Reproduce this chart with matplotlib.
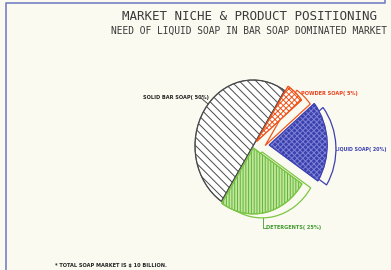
import matplotlib
matplotlib.use("Agg")
import matplotlib.pyplot as plt

# ---- data ----
categories = ["SOLID BAR SOAP", "DETERGENTS", "LIQUID SOAP", "POWDER SOAP"]
shares = [50, 25, 20, 5]
labels = ["SOLID BAR SOAP( 50%)", "DETERGENTS( 25%)", "LIQUID SOAP( 20%)", "POWDER SOAP( 5%)"]
title = "MARKET NICHE & PRODUCT POSITIONING"
subtitle = "NEED OF LIQUID SOAP IN BAR SOAP DOMINATED MARKET"
footnote = "* TOTAL SOAP MARKET IS $ 10 BILLION."

W, H = 391, 270
bg = "#fbfaf1"
fig = plt.figure(figsize=(W / 100, H / 100), dpi=100, facecolor=bg)
plt.rcParams['hatch.linewidth'] = 0.7

# background axes in pixel coordinates
bax = fig.add_axes([0, 0, 1, 1])
bax.set_xlim(0, W)
bax.set_ylim(H, 0)
bax.axis("off")
bax.set_facecolor(bg)

frame_c = "#7580c4"
bax.plot([6, 6, 385, 385], [H + 5, 3, 3, -2], color=frame_c, lw=1.2)

bax.text(249, 17, title, ha="center", va="center", family="DejaVu Sans Mono",
         fontsize=9.0, color="#3a3a3a")
bax.text(249, 31, subtitle, ha="center", va="center", family="DejaVu Sans Mono",
         fontsize=6.95, color="#3a3a3a")
bax.text(55, 265, footnote, ha="left", va="center", fontsize=3.6,
         weight="bold", color="#222222")

# pie axes (elliptical pie)
cx, cy = 253, 146
rx, ry = 58, 66
lim = 1.25
aw, ah = 2 * lim * rx, 2 * lim * ry
pax = fig.add_axes([(cx - aw / 2) / W, (H - cy - ah / 2) / H, aw / W, ah / H])
pax.set_facecolor("none")

face = ["white", "#c3e79a", "#3c40ad", "white"]
edge = ["#4a4a4a", "#5fb43e", "#7d82d8", "#f0561c"]
outline = ["#4a4a4a", "#7cc644", "#3c40b0", "#f0561c"]
hatch = ["\\\\\\\\", "||||||", "xxxxxx", "xxxxxx"]
explode = [0.0, 0.03, 0.28, 0.09]
start = 57

# extrusion (offset outlines) behind exploded slices
back, _ = pax.pie(shares, explode=explode, startangle=start, counterclock=True,
                  center=(0.15, -0.06), radius=1.0)
for i, w in enumerate(back):
    if i == 0:
        w.set_visible(False)
    else:
        w.set_facecolor(bg)
        w.set_edgecolor(outline[i])
        w.set_linewidth(0.9)
        w.set_zorder(1)

front, _ = pax.pie(shares, explode=explode, startangle=start, counterclock=True,
                   radius=1.0)
for i, w in enumerate(front):
    w.set_facecolor(face[i])
    w.set_edgecolor(edge[i])
    w.set_hatch(hatch[i])
    w.set_linewidth(0.6)
    w.set_zorder(3)

front2, _ = pax.pie(shares, explode=explode, startangle=start, counterclock=True,
                    radius=1.0)
for i, w in enumerate(front2):
    w.set_facecolor("none")
    w.set_edgecolor(outline[i])
    w.set_linewidth(0.9)
    w.set_zorder(4)

pax.set_aspect("auto")
pax.set_xlim(-lim, lim)
pax.set_ylim(-lim, lim)
pax.axis("off")

# labels & leader lines (pixel coords)
lab_fs = 3.6
bax.text(143, 98, labels[0], ha="left", va="center", fontsize=lab_fs, weight="bold", color="#222222")
bax.plot([201, 208], [98, 104], color="#333333", lw=0.6)

bax.text(301, 94, labels[3], ha="left", va="center", fontsize=lab_fs, weight="bold", color="#e8401a")
bax.plot([284, 300], [96, 94], color="#222222", lw=0.6)

bax.text(335, 150, labels[2], ha="left", va="center", fontsize=3.4, weight="bold", color="#3a3fae")
bax.plot([329, 335], [150, 150], color="#3a3fae", lw=0.6)

bax.text(266, 228, labels[1], ha="left", va="center", fontsize=lab_fs, weight="bold", color="#3f9a2c")
bax.plot([263, 263, 266], [214, 228, 228], color="#3f9a2c", lw=0.6)

fig.savefig("out.png", dpi=100, facecolor=bg)
